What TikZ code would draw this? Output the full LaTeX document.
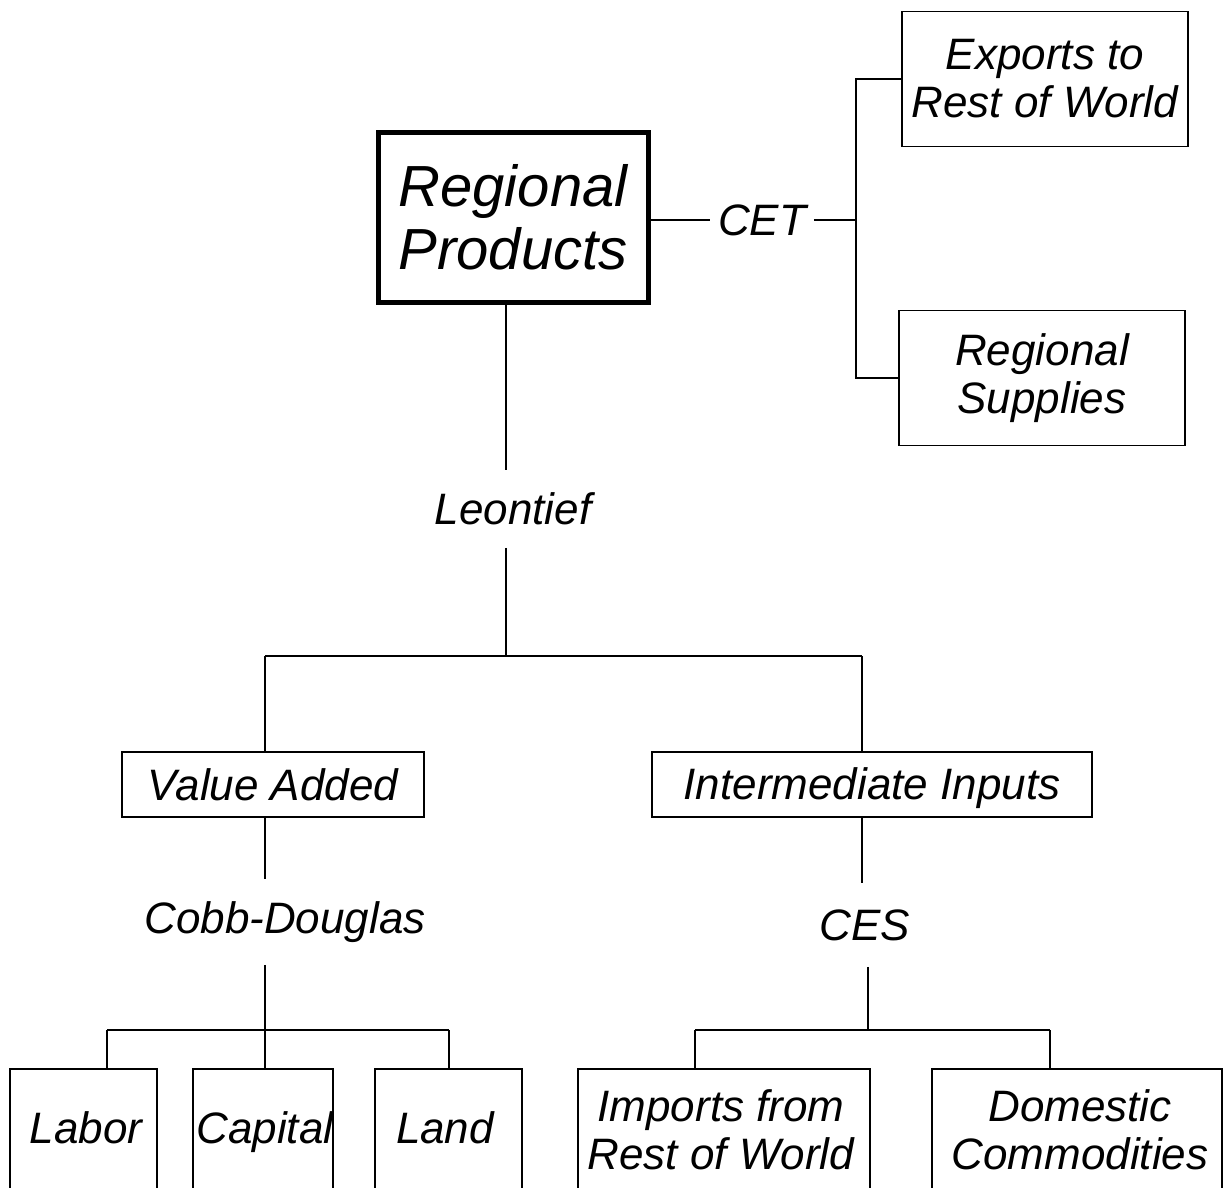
\documentclass[tikz,border=0pt]{standalone}
\usepackage{fontspec}
\setmainfont{Liberation Sans}
\begin{document}
\begin{tikzpicture}[x=1pt,y=-1pt,
  line width=1.8pt,
  txt/.style={font=\fontsize{44}{48}\selectfont\itshape, align=center, inner sep=0pt},
  box/.style={draw, txt},
  bigbox/.style={draw, line width=5pt, font=\fontsize{58}{63}\selectfont\itshape, align=center, inner sep=0pt},
  openbox/.style={draw, anchor=north, minimum height=220pt, inner sep=0pt}
]
\useasboundingbox (0,0) rectangle (1225,1187);
\clip (0,0) rectangle (1225,1187);

% top level
\node[bigbox, minimum width=270pt, minimum height=170pt] (rp) at (513,217) {Regional\\Products};
\node[txt, inner xsep=7pt] (cet) at (762,220) {CET};
\node[box, minimum width=286pt, minimum height=135pt] (exp) at (1045,79) {Exports to\\Rest of World};
\node[box, minimum width=286pt, minimum height=135pt] (rs) at (1042,378) {Regional\\Supplies};
\coordinate (cetbar) at (856,220);
\draw (rp.east |- cet.west) -- (cet.west);
\draw (cet.east) -- (cetbar);
\draw (exp.west) -- (exp.west -| cetbar) -- (rs.west -| cetbar) -- (rs.west);

% Leontief
\node[txt, minimum height=76pt] (leo) at (513,509) {Leontief};
\coordinate (lt) at (506,656);
\coordinate (vaT) at (265,656);
\coordinate (iiT) at (862,656);
\draw (rp.south -| lt) -- (leo.north -| lt);
\draw (leo.south -| lt) -- (lt);
\draw (vaT) -- (iiT);
\node[box, minimum width=302pt, minimum height=65pt] (va) at (273,784.5) {Value Added};
\node[box, minimum width=440pt, minimum height=65pt, text depth=2pt] (ii) at (872,784.5) {Intermediate Inputs};
\draw (vaT) -- (vaT |- va.north);
\draw (iiT) -- (iiT |- ii.north);

% Cobb-Douglas
\node[txt, minimum height=84pt] (cd) at (285,922) {Cobb-Douglas};
\coordinate (cdX) at (265,1030);
\coordinate (cdL) at (107,1030);
\coordinate (cdR) at (449,1030);
\draw (cdX |- va.south) -- (cdX |- cd.north);
\draw (cdX |- cd.south) -- (cdX);
\draw (cdL) -- (cdR);

% CES
\node[txt, minimum height=82pt] (ces) at (865,925) {CES};
\coordinate (ceX) at (868,1030);
\coordinate (ceL) at (695,1030);
\coordinate (ceR) at (1050,1030);
\draw (iiT |- ii.south) -- (iiT |- ces.north);
\draw (ceX |- ces.south) -- (ceX);
\draw (ceL) -- (ceR);

% bottom boxes (cut off by the page edge)
\node[openbox, minimum width=147pt] (labB) at (83.5,1068) {};
\node[openbox, minimum width=140pt] (capB) at (263,1068) {};
\node[openbox, minimum width=147pt] (lanB) at (448.5,1068) {};
\node[openbox, minimum width=292pt] (impB) at (724,1068) {};
\node[openbox, minimum width=290pt] (domB) at (1077,1068) {};
\node[txt, anchor=base] (lab) at (86,1143) {Labor};
\node[txt, anchor=base] (cap) at (265,1143) {Capital};
\node[txt, anchor=base] (lan) at (445,1143) {Land};
\node[txt] (imp) at (721,1130) {Imports from\\Rest of World};
\node[txt] (dom) at (1080,1130) {Domestic\\Commodities};
\draw (cdL) -- (cdL |- labB.north);
\draw (cdX) -- (cdX |- capB.north);
\draw (cdR) -- (cdR |- lanB.north);
\draw (ceL) -- (ceL |- impB.north);
\draw (ceR) -- (ceR |- domB.north);
\end{tikzpicture}
\end{document}
